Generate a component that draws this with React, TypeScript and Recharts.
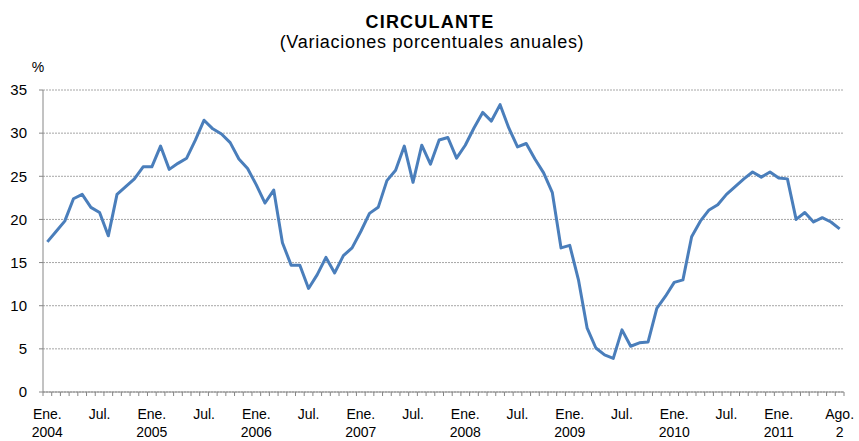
import React from 'react';
import { LineChart, Line, XAxis, YAxis, CartesianGrid } from 'recharts';

// Circulante, variación porcentual anual, mensual Ene. 2004 - Ago. 2011
const CIRCULANTE = [
  17.4, 18.6, 19.8, 22.4, 22.9, 21.4, 20.8, 18.1, 22.9, 23.8, 24.7, 26.1,
  26.1, 28.5, 25.8, 26.5, 27.1, 29.2, 31.5, 30.5, 29.9, 28.9, 27.0, 25.9,
  24.0, 21.9, 23.4, 17.3, 14.7, 14.7, 12.0, 13.6, 15.6, 13.8, 15.8, 16.7,
  18.6, 20.7, 21.4, 24.5, 25.7, 28.5, 24.3, 28.6, 26.4, 29.2, 29.5, 27.1,
  28.6, 30.6, 32.4, 31.4, 33.3, 30.6, 28.4, 28.8, 27.0, 25.4, 23.1, 16.7,
  17.0, 13.0, 7.4, 5.1, 4.3, 3.9, 7.2, 5.3, 5.7, 5.8, 9.7, 11.1,
  12.7, 13.0, 18.0, 19.8, 21.1, 21.7, 22.9, 23.8, 24.7, 25.5, 24.9, 25.5,
  24.8, 24.7, 20.0, 20.8, 19.7, 20.2, 19.7, 18.9,
];

// month index of each labelled tick, with its two text lines
const LABEL_INDEX = [0, 6, 12, 18, 24, 30, 36, 42, 48, 54, 60, 66, 72, 78, 84, 91];
const LABEL_TOP = ['Ene.', 'Jul.', 'Ene.', 'Jul.', 'Ene.', 'Jul.', 'Ene.', 'Jul.', 'Ene.', 'Jul.', 'Ene.', 'Jul.', 'Ene.', 'Jul.', 'Ene.', 'Ago.'];
const LABEL_BOTTOM = ['2004', '', '2005', '', '2006', '', '2007', '', '2008', '', '2009', '', '2010', '', '2011', '2'];

const Y_TICKS = [0, 5, 10, 15, 20, 25, 30, 35];

const FONT = '"Liberation Sans", Arial, sans-serif';
const AXIS_COLOR = '#868686';

const data = CIRCULANTE.map((v, i) => ({ i, v }));
// tick marks sit between months, labels on the months
const boundaries = Array.from({ length: CIRCULANTE.length + 1 }, (_, k) => k - 0.5);
const xTicks = [...boundaries, ...LABEL_INDEX];

const XTick = (props: any) => {
  const { x, y, payload } = props;
  const v = payload.value;
  if (!Number.isInteger(v)) {
    return <line x1={x} x2={x} y1={y} y2={y + 4} stroke={AXIS_COLOR} />;
  }
  const k = LABEL_INDEX.indexOf(v);
  if (k < 0) return null;
  return (
    <text textAnchor="middle" fill="#000" fontSize={14} fontFamily={FONT}>
      <tspan x={x} y={y + 27}>{LABEL_TOP[k]}</tspan>
      <tspan x={x} y={y + 45}>{LABEL_BOTTOM[k]}</tspan>
    </text>
  );
};

export default function App() {
  return (
    <div style={{ position: 'absolute', left: 0, top: 0, width: 859, height: 441, background: '#fff' }}>
      <LineChart width={859} height={441} data={data} margin={{ top: 90, right: 15, bottom: 0, left: 0 }}>
        <CartesianGrid vertical={false} stroke="#a6a6a6" strokeDasharray="2 1" />
        <XAxis
          dataKey="i"
          type="number"
          domain={[-0.5, CIRCULANTE.length - 0.5]}
          ticks={xTicks}
          interval={0}
          tick={<XTick />}
          tickLine={false}
          tickSize={0}
          tickMargin={0}
          height={49}
          axisLine={{ stroke: AXIS_COLOR }}
        />
        <YAxis
          domain={[0, 35]}
          ticks={Y_TICKS}
          interval={0}
          width={43}
          tickSize={4}
          tickMargin={12}
          axisLine={{ stroke: AXIS_COLOR }}
          tickLine={{ stroke: AXIS_COLOR }}
          tick={{ fill: '#000', fontSize: 15, fontFamily: FONT }}
        />
        <Line
          type="linear"
          dataKey="v"
          stroke="#4A7EBB"
          strokeWidth={3}
          strokeLinejoin="round"
          dot={false}
          isAnimationActive={false}
        />
      </LineChart>
      <svg width={859} height={100} style={{ position: 'absolute', left: 0, top: 0, pointerEvents: 'none' }}>
        <text x={430} y={28} textAnchor="middle" fontFamily={FONT} fontSize={18} fontWeight="bold" letterSpacing={1.2}>
          CIRCULANTE
        </text>
        <text x={432} y={48} textAnchor="middle" fontFamily={FONT} fontSize={18} letterSpacing={0.7}>
          (Variaciones porcentuales anuales)
        </text>
        <text x={38} y={72} textAnchor="middle" fontFamily={FONT} fontSize={14}>
          %
        </text>
      </svg>
    </div>
  );
}
